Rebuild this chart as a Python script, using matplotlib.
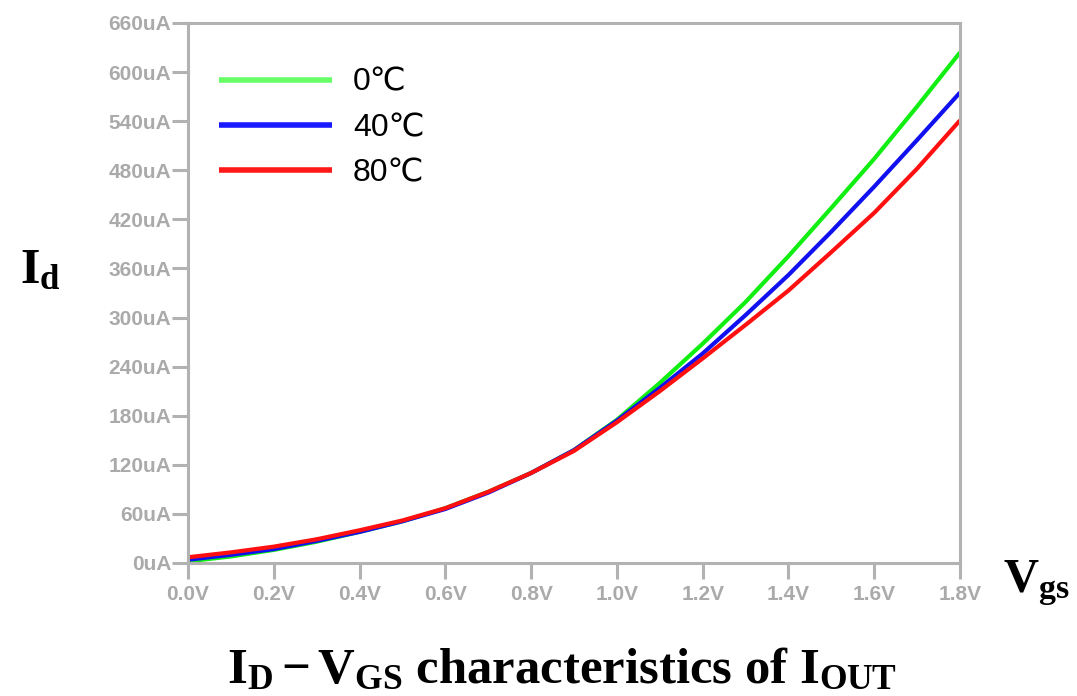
import matplotlib
matplotlib.use('Agg')
import matplotlib.pyplot as plt

plt.rcParams['mathtext.fontset'] = 'custom'
plt.rcParams['mathtext.rm'] = 'Liberation Serif'
plt.rcParams['mathtext.bf'] = 'Liberation Serif:bold'
plt.rcParams['mathtext.it'] = 'Liberation Serif:italic'

# gate voltage (V) and drain current (uA)
vgs = [0.0, 0.1, 0.2, 0.3, 0.4, 0.5, 0.6, 0.7, 0.8, 0.9,
       1.0, 1.1, 1.2, 1.3, 1.4, 1.5, 1.6, 1.7, 1.8]
id_0c = [2, 8, 16, 26, 38, 51, 67, 87, 110, 138,
         175, 220, 268, 319, 375, 434, 494, 558, 624]
id_40c = [4, 10, 17, 27, 38, 51, 66, 86, 110, 138,
          174, 214, 256, 303, 352, 405, 460, 517, 575]
id_80c = [7, 13, 20, 29, 40, 52, 67, 87, 110, 137,
          172, 210, 250, 291, 333, 380, 428, 482, 541]

labels = ['0\u2103', '40\u2103', '80\u2103']
colors = ['#11ee11', '#1010f0', '#ff1010']
legend_colors = ['#66ff66', '#1a1aff', '#ff1a1a']

yticks = list(range(0, 661, 60))
xticks = [0.0, 0.2, 0.4, 0.6, 0.8, 1.0, 1.2, 1.4, 1.6, 1.8]

gray = '#b2b2b2'
fig = plt.figure(figsize=(10.77, 6.96), dpi=100)
ax = fig.add_axes([188 / 1077, 1 - 563 / 696, (960 - 188) / 1077, (563 - 23) / 696])

for ys, c, lab in zip([id_0c, id_40c, id_80c], colors, labels):
    ax.plot(vgs, ys, color=c, lw=3, label=lab, solid_capstyle='butt')

ax.set_xlim(0, 1.8)
ax.set_ylim(0, 660)
ax.set_xticks(xticks)
ax.set_xticklabels(['%.1fV' % x for x in xticks])
ax.set_yticks(yticks)
ax.set_yticklabels(['%duA' % y for y in yticks])

for s in ax.spines.values():
    s.set_color(gray)
    s.set_linewidth(2.2)
ax.tick_params(axis='both', colors=gray, width=2.2, length=11.5, direction='out')
ax.tick_params(axis='y', pad=0.5)
ax.tick_params(axis='x', pad=4)
for t in ax.get_xticklabels() + ax.get_yticklabels():
    t.set_family(['Liberation Sans', 'DejaVu Sans'])
    t.set_fontweight('bold')
    t.set_fontsize(15)
    t.set_color('#aaaaaa')

leg = ax.legend(loc='upper left', bbox_to_anchor=(0.040, 0.917), frameon=False,
                borderpad=0, borderaxespad=0,
                handlelength=3.55, handletextpad=0.65, labelspacing=0.48,
                prop={'family': ['Liberation Sans', 'DejaVu Sans'], 'size': 23})
for h, c in zip(leg.legend_handles, legend_colors):
    h.set_color(c)
    h.set_linewidth(4)

fig.text(20 / 1077, 1 - 283 / 696, r'$\mathbf{I_d}$', fontsize=36,
         ha='left', va='baseline')
fig.text(1003 / 1077, 1 - 592 / 696, r'$\mathbf{V_{gs}}$', fontsize=35,
         ha='left', va='baseline')
fig.text(562 / 1077, 1 - 683 / 696,
         r'$\mathbf{I_D - V_{GS}}$ characteristics of $\mathbf{I_{OUT}}$',
         fontsize=36.5, fontweight='bold', family='Liberation Serif',
         ha='center', va='baseline')

fig.savefig('out.png', dpi=100)
